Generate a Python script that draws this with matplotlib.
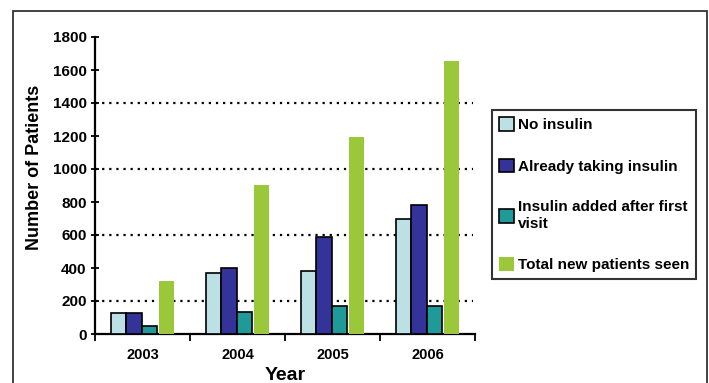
import matplotlib
matplotlib.use("Agg")
import matplotlib.pyplot as plt
import numpy as np
from matplotlib.patches import Rectangle

plt.rcParams['font.family'] = ['Liberation Sans', 'DejaVu Sans']
plt.rcParams['font.weight'] = 'bold'

years = ["2003", "2004", "2005", "2006"]
series_names = ["No insulin", "Already taking insulin",
                "Insulin added after first\nvisit", "Total new patients seen"]
no_insulin = [130, 370, 380, 700]
already_insulin = [130, 400, 585, 780]
insulin_added = [48, 132, 168, 168]
total_new = [320, 905, 1195, 1655]
yticks = [0, 200, 400, 600, 800, 1000, 1200, 1400, 1600, 1800]
grid_levels = [200, 600, 1000, 1400]

colors = ["#BCE0E4", "#333399", "#1F9A98", "#9BC83A"]
edges = ["black", "black", "black", "none"]

fig = plt.figure(figsize=(7.09, 3.83), dpi=100)
ax = fig.add_axes([95/709, 1-334/383, 380/709, 297/383])

# outer frame
fig.patches.append(Rectangle((13/709, -0.05), (707-13)/709, (1-11/383)+0.05,
                             transform=fig.transFigure, fill=False,
                             edgecolor='#222222', linewidth=1.2, zorder=0))

x = np.arange(len(years))
w = 0.16
offsets = [-1.5*w - 0.01, -0.5*w - 0.01, 0.5*w - 0.01, 1.5*w + 0.01]
data = [no_insulin, already_insulin, insulin_added, total_new]
handles = []
for vals, off, c, e, name in zip(data, offsets, colors, edges, series_names):
    b = ax.bar(x + off, vals, width=w, color=c, edgecolor=e,
               linewidth=1.2 if e != "none" else 0, zorder=3, label=name)
    handles.append(b)

for g in grid_levels:
    ax.axhline(g, color='black', linestyle=(0, (1, 2.2)), linewidth=1.6,
               zorder=1, xmax=0.995)

ax.set_xlim(-0.5, 3.5)
ax.set_ylim(0, 1800)
ax.set_yticks(yticks)
ax.set_yticklabels([str(t) for t in yticks], fontsize=11, fontweight='bold')
ax.set_xticks(x)
ax.set_xticklabels(years, fontsize=10.5, fontweight='bold')
ax.tick_params(axis='x', length=0, pad=10)
ax.set_xticks(np.arange(-0.5, 4.0, 1.0), minor=True)
ax.tick_params(axis='x', which='minor', length=5, width=1.3, direction='out')
ax.tick_params(axis='y', length=6, width=1.3, direction='inout', pad=3)

for s in ['top', 'right']:
    ax.spines[s].set_visible(False)
for s in ['left', 'bottom']:
    ax.spines[s].set_linewidth(1.6)

ax.set_ylabel("Number of Patients", fontsize=13, fontweight='bold')
ax.yaxis.set_label_coords(-0.137, 0.56)
ax.set_xlabel("Year", fontsize=14, fontweight='bold', labelpad=4)

leg = fig.legend(handles=handles, labels=series_names, loc='upper left',
                 bbox_to_anchor=(492/709, 1-110/383), frameon=True,
                 fancybox=False, edgecolor='black', fontsize=11,
                 labelspacing=1.75, handlelength=1.0, handleheight=1.0,
                 handletextpad=0.25, borderpad=0.45, borderaxespad=0)
leg.get_frame().set_linewidth(1.5)
for t in leg.get_texts():
    t.set_fontweight('bold')

fig.savefig("out.png", dpi=100)
